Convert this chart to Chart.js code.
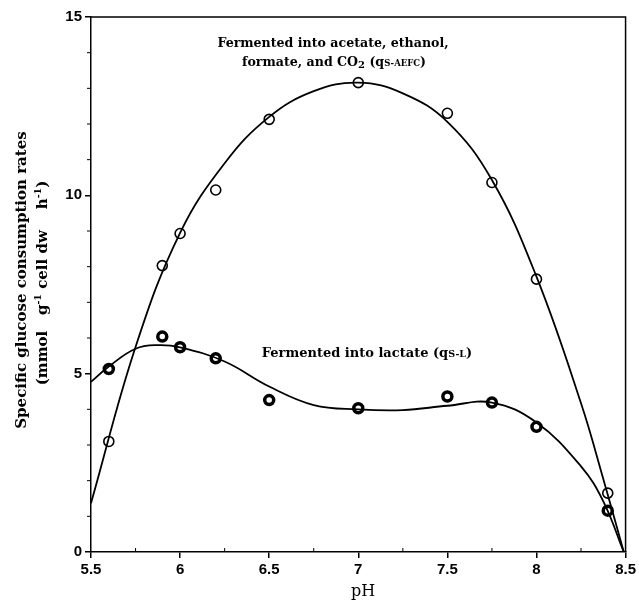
<!DOCTYPE html>
<html>
<head>
<meta charset="utf-8">
<script src="https://cdn.jsdelivr.net/npm/chart.js@4"></script>
<style>
  html, body { margin: 0; padding: 0; background: #fff; }
  #wrap { width: 639px; height: 614px; }
</style>
</head>
<body>
<div id="wrap"><canvas id="chart" width="639" height="614"></canvas></div>
<script>
// Measured points
const phPoints = [5.6, 5.9, 6.0, 6.2, 6.5, 7.0, 7.5, 7.75, 8.0, 8.4];
const aefcRates = [3.1, 8.03, 8.93, 10.15, 12.13, 13.16, 12.3, 10.36, 7.65, 1.65];
const lactateRates = [5.13, 6.04, 5.74, 5.43, 4.26, 4.03, 4.36, 4.19, 3.51, 1.16];

// Fitted curves
const aefcFitPh = [5.5, 5.75, 6.0, 6.25, 6.5, 6.75, 7.0, 7.25, 7.5, 7.75, 8.0, 8.25, 8.375, 8.49];
const aefcFitRates = [1.37, 5.75, 8.95, 10.9, 12.2, 12.92, 13.16, 12.86, 12.06, 10.43, 7.72, 4.17, 2.05, 0];
const lactateFitPh = [5.5, 5.6, 5.75, 5.875, 6.0, 6.25, 6.5, 6.75, 7.0, 7.25, 7.5, 7.75, 8.0, 8.25, 8.375, 8.49];
const lactateFitRates = [4.77, 5.2, 5.7, 5.8, 5.74, 5.34, 4.64, 4.12, 4.0, 3.98, 4.1, 4.19, 3.63, 2.4, 1.42, 0];

const xMinorTicks = [5.75, 6.25, 6.75, 7.25, 7.75, 8.25];
const yMinorTicks = [1, 2, 3, 4, 6, 7, 8, 9, 11, 12, 13, 14];

const SERIF = '"DejaVu Serif", "Liberation Serif", serif';
const SANS = '"Liberation Sans", Arial, sans-serif';

const zip = (xs, ys) => xs.map((x, i) => ({ x, y: ys[i] }));

// draws text made of parts with different sizes / baseline shifts
function drawRich(ctx, parts, x, y, align) {
  ctx.textBaseline = 'alphabetic';
  ctx.textAlign = 'left';
  let total = 0;
  parts.forEach(p => {
    ctx.font = `bold ${p.size}px ${SERIF}`;
    p.w = ctx.measureText(p.t).width;
    total += p.w;
  });
  let cx = align === 'center' ? x - total / 2 : x;
  parts.forEach(p => {
    ctx.font = `bold ${p.size}px ${SERIF}`;
    ctx.fillText(p.t, cx, y + (p.dy || 0));
    cx += p.w;
  });
}

const decorations = {
  id: 'decorations',
  afterDraw(chart) {
    const ctx = chart.ctx;
    const { left, right, top, bottom } = chart.chartArea;
    const xs = chart.scales.x, ys = chart.scales.y;
    ctx.save();
    ctx.strokeStyle = '#000';
    ctx.fillStyle = '#000';

    // frame top + right
    ctx.lineWidth = 1.5;
    ctx.beginPath();
    ctx.moveTo(left, top);
    ctx.lineTo(right, top);
    ctx.lineTo(right, bottom);
    ctx.stroke();

    // minor ticks
    ctx.lineWidth = 1;
    ctx.beginPath();
    xMinorTicks.forEach(v => {
      const px = xs.getPixelForValue(v);
      ctx.moveTo(px, bottom);
      ctx.lineTo(px, bottom - 4);
    });
    yMinorTicks.forEach(v => {
      const py = ys.getPixelForValue(v);
      ctx.moveTo(left, py);
      ctx.lineTo(left - 4, py);
    });
    ctx.stroke();

    // curve labels
    drawRich(ctx, [{ t: 'Fermented into acetate, ethanol,', size: 12.6 }], 333, 47, 'center');
    drawRich(ctx, [
      { t: 'formate, and CO', size: 12.6 },
      { t: '2', size: 10, dy: 2 },
      { t: ' (q', size: 12.6 },
      { t: 'S-AEFC', size: 8.5 },
      { t: ')', size: 12.6 },
    ], 334, 66, 'center');
    drawRich(ctx, [
      { t: 'Fermented into lactate (q', size: 13 },
      { t: 'S-L', size: 9.5 },
      { t: ')', size: 13 },
    ], 367, 357, 'center');

    // y title (rotated)
    ctx.save();
    ctx.translate(26, 280);
    ctx.rotate(-Math.PI / 2);
    drawRich(ctx, [{ t: 'Specific glucose consumption rates', size: 15 }], 0, 0, 'center');
    ctx.restore();
    ctx.save();
    ctx.translate(47, 283);
    ctx.rotate(-Math.PI / 2);
    drawRich(ctx, [
      { t: '(mmol   g', size: 15 },
      { t: '-1', size: 9.5, dy: -6 },
      { t: ' cell dw    h', size: 15 },
      { t: '-1', size: 9.5, dy: -6 },
      { t: ')', size: 15 },
    ], 0, 0, 'center');
    ctx.restore();

    // x title
    ctx.font = `16px ${SERIF}`;
    ctx.textAlign = 'center';
    ctx.textBaseline = 'alphabetic';
    ctx.fillText('pH', 363, 596);
    ctx.restore();
  },
};

const axisCommon = {
  type: 'linear',
  grid: { display: true, drawOnChartArea: false, drawTicks: true, tickLength: 6, color: '#000', lineWidth: 1.5 },
  border: { display: true, color: '#000', width: 1.5 },
  ticks: { color: '#000', font: { family: SANS, size: 15, weight: 'bold' }, padding: 3, callback: v => String(v) },
};

new Chart(document.getElementById('chart').getContext('2d'), {
  type: 'scatter',
  data: {
    datasets: [
      {
        type: 'line', data: zip(aefcFitPh, aefcFitRates),
        borderColor: '#000', borderWidth: 1.8, pointRadius: 0, fill: false, tension: 0.4,
      },
      {
        type: 'line', data: zip(lactateFitPh, lactateFitRates),
        borderColor: '#000', borderWidth: 1.8, pointRadius: 0, fill: false, tension: 0.4,
      },
      {
        data: zip(phPoints, aefcRates),
        pointRadius: 5, pointBorderWidth: 1.6, pointBorderColor: '#000', pointBackgroundColor: '#fff',
      },
      {
        data: zip(phPoints, lactateRates),
        pointRadius: 4.5, pointBorderWidth: 3.5, pointBorderColor: '#000', pointBackgroundColor: '#fff',
      },
    ],
  },
  options: {
    responsive: false,
    animation: false,
    layout: { padding: { top: 17, right: 13, left: 0, bottom: 0 } },
    plugins: { legend: { display: false }, tooltip: { enabled: false } },
    scales: {
      x: {
        ...axisCommon, min: 5.5, max: 8.5,
        ticks: { ...axisCommon.ticks, stepSize: 0.5 },
        afterFit(scale) { scale.height = 62; },
      },
      y: {
        ...axisCommon, min: 0, max: 15,
        ticks: { ...axisCommon.ticks, stepSize: 5 },
        afterFit(scale) { scale.width = 91; },
      },
    },
  },
  plugins: [decorations],
});
</script>
</body>
</html>
